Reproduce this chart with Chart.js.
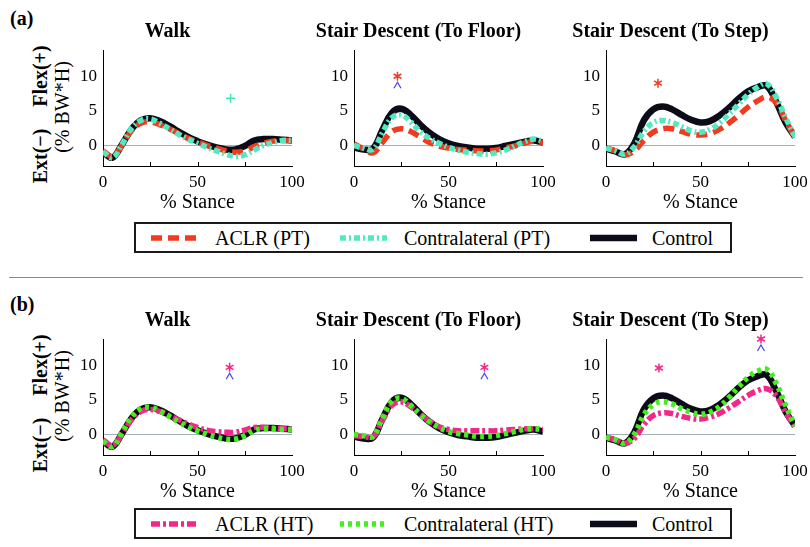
<!DOCTYPE html>
<html>
<head>
<meta charset="utf-8">
<script src="https://cdn.jsdelivr.net/npm/chart.js@4.4.1/dist/chart.umd.min.js"></script>
<style>
  body { margin: 0; width: 810px; height: 547px; overflow: hidden; background: #fff; position: relative; font-family: 'Liberation Serif', serif; }
  canvas { position: absolute; }
  .txt { position: absolute; white-space: nowrap; color: #000; line-height: 1; }
  .rot { transform: translate(-50%, -50%) rotate(-90deg); }
  .legend { position: absolute; box-sizing: border-box; border: 2px solid #1a1a1a; background: #fff; }
  .leg-item { position: absolute; font-size: 20px; line-height: 24px; white-space: nowrap; }
  .sep { position: absolute; left: 9px; width: 794px; top: 277px; height: 1px; background: #8a8a8a; }
</style>
</head>
<body>
<div class="txt" style="left:10px;top:8px;font-size:20px;font-weight:bold">(a)</div>
<div class="txt" style="left:10px;top:294px;font-size:20px;font-weight:bold">(b)</div>
<div class="sep"></div>
<div id="labels"></div>
<div id="legends"></div>

<script>
// % stance sample points
const stance = [0, 5, 10, 15, 20, 25, 30, 35, 40, 45, 50, 55, 60, 65, 70, 75, 80, 85, 90, 95, 100];

// control group (same in both rows)
const controlWalk  = [-1.0, -1.8, 0.1, 2.3, 3.6, 3.9, 3.5, 2.8, 2.0, 1.2, 0.6, 0.1, -0.3, -0.6, -0.6, -0.1, 0.7, 0.9, 0.9, 0.8, 0.7];
const controlFloor = [-0.3, -0.6, -0.5, 2.2, 4.7, 5.3, 4.4, 3.0, 1.8, 0.9, 0.3, -0.1, -0.3, -0.5, -0.5, -0.4, -0.1, 0.2, 0.5, 0.7, 0.4];
const controlStep  = [-0.5, -0.9, -1.3, 0.3, 3.6, 5.2, 5.6, 5.2, 4.4, 3.7, 3.3, 3.5, 4.3, 5.4, 6.7, 7.8, 8.4, 8.6, 6.3, 3.3, 1.2];

// (a) patellar tendon graft
const aclrPTWalk    = [-0.8, -1.6, 0.0, 2.1, 3.2, 3.4, 3.0, 2.4, 1.7, 1.0, 0.5, 0.0, -0.4, -0.8, -1.0, -0.8, -0.2, 0.3, 0.6, 0.7, 0.7];
const contraPTWalk  = [-0.9, -1.8, 0.1, 2.4, 3.6, 3.8, 3.2, 2.4, 1.6, 0.9, 0.3, -0.3, -0.8, -1.3, -1.6, -1.4, -0.7, 0.0, 0.4, 0.7, 0.7];
const aclrPTFloor   = [0.2, -0.5, -1.1, 0.4, 2.0, 2.4, 2.0, 1.2, 0.4, -0.1, -0.4, -0.6, -0.7, -0.8, -0.8, -0.7, -0.4, -0.1, 0.3, 0.6, 0.4];
const contraPTFloor = [0.0, -0.4, -0.6, 1.8, 4.0, 4.4, 3.4, 2.0, 1.0, 0.3, -0.3, -0.7, -1.0, -1.2, -1.3, -1.1, -0.7, -0.1, 0.5, 0.9, 0.6];
const aclrPTStep    = [-0.4, -0.8, -1.4, -0.8, 0.7, 1.9, 2.4, 2.4, 2.0, 1.6, 1.5, 1.7, 2.3, 3.2, 4.3, 5.5, 6.4, 7.0, 6.2, 3.6, 1.1];
const contraPTStep  = [-0.4, -0.8, -1.3, -0.2, 2.0, 3.3, 3.6, 3.3, 2.7, 2.1, 1.9, 2.3, 3.2, 4.5, 5.9, 7.3, 8.4, 8.9, 7.0, 4.0, 1.2];

// (b) hamstring tendon graft
const aclrHTWalk    = [-0.8, -1.6, 0.0, 2.1, 3.3, 3.6, 3.3, 2.7, 2.1, 1.5, 1.0, 0.6, 0.4, 0.3, 0.3, 0.6, 1.0, 1.0, 0.9, 0.8, 0.8];
const contraHTWalk  = [-1.0, -1.8, 0.2, 2.5, 3.7, 3.9, 3.4, 2.6, 1.8, 1.1, 0.5, 0.0, -0.4, -0.7, -0.7, -0.2, 0.6, 0.8, 0.8, 0.7, 0.7];
const aclrHTFloor   = [-0.2, -0.3, -0.4, 2.0, 4.2, 4.7, 4.0, 2.9, 1.9, 1.1, 0.7, 0.5, 0.5, 0.5, 0.5, 0.5, 0.6, 0.7, 0.8, 0.8, 0.7];
const contraHTFloor = [0.0, -0.2, -0.3, 2.3, 4.8, 5.2, 4.2, 2.9, 1.8, 1.0, 0.4, 0.1, -0.1, -0.3, -0.3, -0.2, 0.1, 0.4, 0.7, 0.8, 0.7];
const aclrHTStep    = [-0.4, -0.8, -1.3, -0.6, 1.4, 2.7, 3.1, 3.0, 2.6, 2.3, 2.2, 2.5, 3.0, 3.8, 4.7, 5.6, 6.3, 6.6, 5.6, 3.2, 1.0];
const contraHTStep  = [-0.4, -0.8, -1.3, 0.0, 2.8, 4.3, 4.7, 4.4, 3.7, 3.2, 2.9, 3.2, 4.0, 5.3, 6.8, 8.2, 9.1, 9.4, 7.4, 4.2, 1.2];

// significance markers [stance, value, symbol]
const sigPTWalk  = [[67.5, 6.8, '+']];
const sigPTFloor = [[23, 10.0, '*'], [23, 8.7, '^']];
const sigPTStep  = [[27.5, 9.0, '*']];
const sigHTWalk  = [[67, 9.7, '*'], [67, 8.4, '^']];
const sigHTFloor = [[69, 9.7, '*'], [69, 8.4, '^']];
const sigHTStep  = [[28, 9.6, '*'], [82, 13.8, '*'], [82, 12.5, '^']];

const titles = ['Walk', 'Stair Descent (To Floor)', 'Stair Descent (To Step)'];
const xTicks = [0, 25, 50, 75, 100];
const xLabels = [0, 50, 100];
const yTicks = [0, 5, 10];
const legendPT = ['ACLR (PT)', 'Contralateral (PT)', 'Control'];
const legendHT = ['ACLR (HT)', 'Contralateral (HT)', 'Control'];

Chart.defaults.font.family = "'Liberation Serif', serif";
Chart.defaults.color = '#000';

const stylesPT = [
  { color: '#f23a1f', width: 5.5, dash: [11, 6], order: 2 },
  { color: '#52e8c0', width: 5.5, dash: [6, 3, 2, 3], order: 1 },
  { color: '#0b0c18', width: 6.5, dash: [], order: 3 }
];
const stylesHT = [
  { color: '#f0288a', width: 5.5, dash: [9, 3, 3, 3], order: 2 },
  { color: '#44f01c', width: 5.5, dash: [4, 4], order: 1 },
  { color: '#0b0c18', width: 6.5, dash: [], order: 3 }
];
const markColorsPT = { '*': '#f23a1f', '+': '#3fe6b8', '^': '#4b4bf2' };
const markColorsHT = { '*': '#f0288a', '+': '#3fe6b8', '^': '#4b4bf2' };

const plotLeft = [103, 354, 606];
const rowTop = [0, 289];

function marksPlugin(marks, colors) {
  return {
    id: 'sigMarks',
    afterDraw(chart) {
      const { ctx, chartArea, scales: { x, y } } = chart;
      ctx.save();
      // inward tick marks on the x axis
      ctx.strokeStyle = '#000';
      ctx.lineWidth = 1;
      [25, 50, 75].forEach(v => {
        const px = Math.round(x.getPixelForValue(v)) + 0.5;
        ctx.beginPath();
        ctx.moveTo(px, chartArea.bottom);
        ctx.lineTo(px, chartArea.bottom - 4);
        ctx.stroke();
      });
      marks.forEach(([mx, my, sym]) => {
        const px = x.getPixelForValue(mx), py = y.getPixelForValue(my);
        ctx.strokeStyle = colors[sym];
        ctx.lineWidth = 1.5;
        ctx.beginPath();
        if (sym === '+') {
          ctx.moveTo(px - 4.5, py); ctx.lineTo(px + 4.5, py);
          ctx.moveTo(px, py - 4.5); ctx.lineTo(px, py + 4.5);
        } else if (sym === '*') {
          for (let k = 0; k < 3; k++) {
            const a = Math.PI / 2 + k * Math.PI / 3;
            ctx.moveTo(px + 4.5 * Math.cos(a), py + 4.5 * Math.sin(a));
            ctx.lineTo(px - 4.5 * Math.cos(a), py - 4.5 * Math.sin(a));
          }
        } else {
          ctx.lineWidth = 1.3;
          ctx.moveTo(px - 3.5, py + 3); ctx.lineTo(px, py - 3); ctx.lineTo(px + 3.5, py + 3);
        }
        ctx.stroke();
      });
      ctx.restore();
    }
  };
}

function makePanel(row, col, series, marks) {
  const styles = row === 0 ? stylesPT : stylesHT;
  const names = row === 0 ? legendPT : legendHT;
  const cv = document.createElement('canvas');
  cv.width = 280;
  cv.height = 220;
  cv.style.left = (plotLeft[col] - 60) + 'px';
  cv.style.top = rowTop[row] + 'px';
  document.body.appendChild(cv);

  new Chart(cv, {
    type: 'line',
    data: {
      datasets: series.map((s, i) => ({
        label: names[i],
        data: stance.map((v, k) => ({ x: v, y: s[k] })),
        borderColor: styles[i].color,
        borderWidth: styles[i].width,
        borderDash: styles[i].dash,
        borderCapStyle: 'butt',
        order: styles[i].order,
        pointRadius: 0,
        tension: 0.4,
        fill: false
      }))
    },
    options: {
      responsive: false,
      animation: false,
      events: [],
      layout: { padding: { left: 0, right: 31, top: 0, bottom: 5 } },
      plugins: {
        legend: { display: false },
        tooltip: { enabled: false },
        title: {
          display: true, text: titles[col], color: '#000',
          font: { size: 20, weight: 'bold' },
          padding: { top: 20, bottom: 6 }
        }
      },
      scales: {
        x: {
          type: 'linear', min: 0, max: 100,
          afterBuildTicks: s => { s.ticks = xTicks.map(v => ({ value: v })); },
          afterFit: s => { s.height = 49; },
          ticks: {
            padding: 6, font: { size: 17 }, color: '#000', maxRotation: 0, autoSkip: false,
            callback: v => xLabels.includes(v) ? String(v) : ''
          },
          grid: { display: true, drawOnChartArea: false, drawTicks: false },
          border: { display: true, color: '#000', width: 1 },
          title: { display: true, text: '% Stance', color: '#000', font: { size: 20 }, padding: { top: 0, bottom: 0 } }
        },
        y: {
          min: -3, max: 13.8,
          afterBuildTicks: s => { s.ticks = yTicks.map(v => ({ value: v })); },
          afterFit: s => { s.width = 60; },
          ticks: { padding: 6, font: { size: 17 }, color: '#000' },
          grid: {
            drawTicks: false,
            color: c => (c.tick && c.tick.value === 0) ? '#9fb2ba' : 'rgba(0,0,0,0)'
          },
          border: { display: true, color: '#000', width: 1 }
        }
      }
    },
    plugins: [marksPlugin(marks, row === 0 ? markColorsPT : markColorsHT)]
  });
}

makePanel(0, 0, [aclrPTWalk, contraPTWalk, controlWalk], sigPTWalk);
makePanel(0, 1, [aclrPTFloor, contraPTFloor, controlFloor], sigPTFloor);
makePanel(0, 2, [aclrPTStep, contraPTStep, controlStep], sigPTStep);
makePanel(1, 0, [aclrHTWalk, contraHTWalk, controlWalk], sigHTWalk);
makePanel(1, 1, [aclrHTFloor, contraHTFloor, controlFloor], sigHTFloor);
makePanel(1, 2, [aclrHTStep, contraHTStep, controlStep], sigHTStep);

// y axis labels (rotated)
const labels = document.getElementById('labels');
rowTop.forEach(t => {
  labels.insertAdjacentHTML('beforeend',
    `<div class="txt rot" style="left:40px;top:${t + 156}px;font-size:20px;font-weight:bold">Ext(−)</div>` +
    `<div class="txt rot" style="left:40px;top:${t + 76}px;font-size:20px;font-weight:bold">Flex(+)</div>` +
    `<div class="txt rot" style="left:62px;top:${t + 107}px;font-size:20px">(% BW*H)</div>`);
});

// legends
function legendBox(top, names, styles) {
  const sampleX = [151, 340, 590];
  const textX = [215, 404, 652];
  let html = `<div class="legend" style="left:134px;top:${top}px;width:598px;height:31px"></div>`;
  names.forEach((n, i) => {
    const s = styles[i];
    html += `<svg style="position:absolute;left:${sampleX[i]}px;top:${top + 12}px" width="47" height="8">` +
      `<line x1="0" y1="4" x2="47" y2="4" stroke="${s.color}" stroke-width="${s.width}" ` +
      `stroke-dasharray="${s.dash.length ? s.dash.join(' ') : 'none'}"/></svg>`;
    html += `<div class="leg-item" style="left:${textX[i]}px;top:${top + 4}px">${n}</div>`;
  });
  return html;
}
document.getElementById('legends').innerHTML =
  legendBox(222, legendPT, stylesPT) + legendBox(508, legendHT, stylesHT);
</script>
</body>
</html>
